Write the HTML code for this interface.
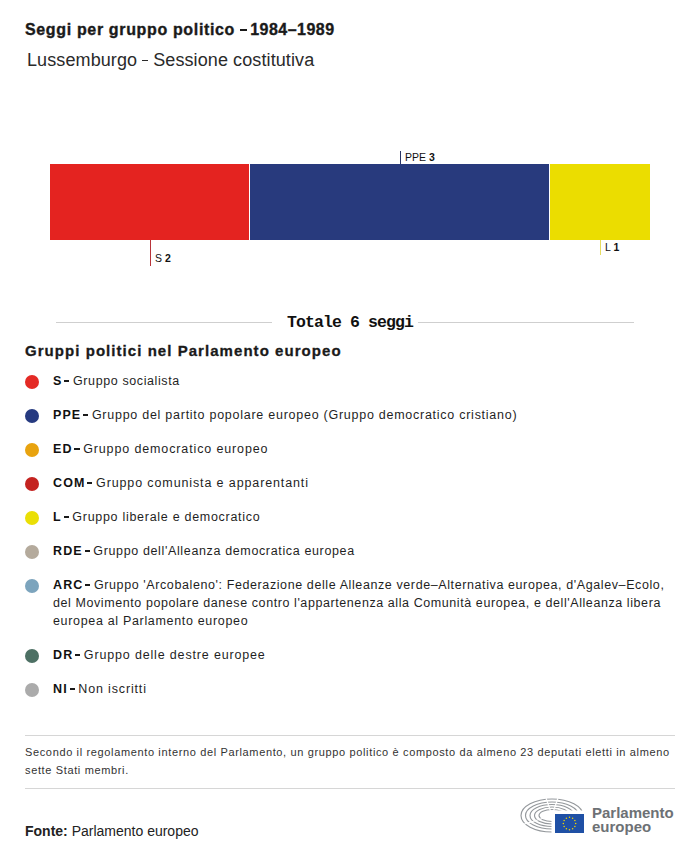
<!DOCTYPE html>
<html><head><meta charset="utf-8">
<style>
html,body{margin:0;padding:0;background:#fff;}
body{width:700px;height:856px;position:relative;overflow:hidden;font-family:"Liberation Sans",sans-serif;color:#1a1a1a;}
.a{position:absolute;white-space:nowrap;line-height:1;}
.seg{position:absolute;top:164px;height:76px;}
.tick{position:absolute;width:1px;}
.lbl{position:absolute;font-size:10.5px;line-height:1;white-space:nowrap;color:#111;}
.lbl b{font-weight:bold;}
.hr{position:absolute;height:1px;background:#cfcfcf;}
.dot{position:absolute;width:14px;height:14px;border-radius:50%;left:25px;}
.row{position:absolute;left:53px;font-size:12.5px;line-height:18px;white-space:nowrap;color:#1f1f1f;letter-spacing:0.6px;}
.row b{font-weight:bold;color:#111;letter-spacing:1.1px;}
.d{display:inline-block;width:5.2px;height:1.7px;background:#1a1a1a;margin:0 3.6px 0 1.8px;vertical-align:3.2px;}
</style></head>
<body>
<div id="title" class="a" style="left:25px;top:22px;font-size:16px;font-weight:bold;letter-spacing:0.48px;-webkit-text-stroke:0.35px #1a1a1a;"><span id="t1" style="letter-spacing:0.65px">Seggi per gruppo politico</span><i id="tdash" style="display:inline-block;width:6.4px;height:2.2px;background:#1a1a1a;margin:0 3.4px 0 5.4px;vertical-align:4px;"></i>1984–1989</div>
<div id="sub" class="a" style="left:27px;top:51px;font-size:18px;color:#2a2a2a;letter-spacing:0.1px;">Lussemburgo<i style="display:inline-block;width:6px;height:1.4px;background:#2a2a2a;margin:0 5px;vertical-align:4.6px;"></i>Sessione costitutiva</div>

<div class="seg" style="left:50px;width:199px;background:#e42320;"></div>
<div class="seg" style="left:250px;width:299px;background:#283a7d;"></div>
<div class="seg" style="left:550px;width:100px;background:#ebdd00;"></div>

<div class="tick" style="left:150px;top:240px;height:26px;background:#b8343a;"></div>
<div id="ls" class="lbl" style="left:155px;top:253px;">S <b>2</b></div>
<div class="tick" style="left:400px;top:151px;height:13px;background:#2a3566;"></div>
<div id="lp" class="lbl" style="left:405px;top:152px;">PPE <b>3</b></div>
<div class="tick" style="left:600px;top:240px;height:15px;background:#e6dc60;"></div>
<div id="ll" class="lbl" style="left:605px;top:242px;">L <b>1</b></div>

<div class="hr" style="left:56px;top:322px;width:216px;"></div>
<div class="hr" style="left:418px;top:322px;width:216px;"></div>
<div id="tot" class="a" style="left:287px;top:315px;font-family:'Liberation Mono',monospace;font-weight:bold;font-size:16.5px;letter-spacing:-0.9px;color:#111;">Totale 6 seggi</div>

<div id="gtitle" class="a" style="left:25px;top:343px;font-size:15px;font-weight:bold;letter-spacing:1.05px;-webkit-text-stroke:0.3px #1a1a1a;">Gruppi politici nel Parlamento europeo</div>

<div class="dot" style="top:375px;background:#e42a25;"></div>
<div id="r1" class="row" style="top:372px;"><b>S</b><i class="d"></i>Gruppo socialista</div>
<div class="dot" style="top:409px;background:#263a80;"></div>
<div id="r2" class="row" style="top:406px;letter-spacing:0.74px;"><b>PPE</b><i class="d"></i>Gruppo del partito popolare europeo (Gruppo democratico cristiano)</div>
<div class="dot" style="top:443px;background:#e8a30f;"></div>
<div id="r3" class="row" style="top:440px;letter-spacing:0.87px;"><b>ED</b><i class="d"></i>Gruppo democratico europeo</div>
<div class="dot" style="top:477px;background:#c42320;"></div>
<div id="r4" class="row" style="top:474px;letter-spacing:0.88px;"><b>COM</b><i class="d"></i>Gruppo comunista e apparentanti</div>
<div class="dot" style="top:511px;background:#eadf06;"></div>
<div id="r5" class="row" style="top:508px;letter-spacing:0.71px;"><b>L</b><i class="d"></i>Gruppo liberale e democratico</div>
<div class="dot" style="top:545px;background:#b4aa9c;"></div>
<div id="r6" class="row" style="top:542px;letter-spacing:0.64px;"><b>RDE</b><i class="d"></i>Gruppo dell'Alleanza democratica europea</div>
<div class="dot" style="top:579px;background:#7ca4bd;"></div>
<div id="r7" class="row" style="top:576px;"><b>ARC</b><i class="d"></i>Gruppo 'Arcobaleno': Federazione delle Alleanze verde–Alternativa europea, d'Agalev–Ecolo,<br><span style="letter-spacing:0.58px">del Movimento popolare danese contro l'appartenenza alla Comunità europea, e dell'Alleanza libera</span><br><span style="letter-spacing:0.67px">europea al Parlamento europeo</span></div>
<div class="dot" style="top:649px;background:#4d7064;"></div>
<div id="r8" class="row" style="top:646px;letter-spacing:0.84px;"><b>DR</b><i class="d"></i>Gruppo delle destre europee</div>
<div class="dot" style="top:683px;background:#ababab;"></div>
<div id="r9" class="row" style="top:680px;letter-spacing:0.85px;"><b>NI</b><i class="d"></i>Non iscritti</div>

<div class="hr" style="left:25px;top:735px;width:650px;background:#d6d6d6;"></div>
<div id="f1" class="row" style="left:25px;top:743px;font-size:11px;color:#333;letter-spacing:0.64px;">Secondo il regolamento interno del Parlamento, un gruppo politico è composto da almeno 23 deputati eletti in almeno<br>sette Stati membri.</div>
<div class="hr" style="left:25px;top:788px;width:650px;background:#d6d6d6;"></div>

<div id="fonte" class="a" style="left:25px;top:824px;font-size:14px;color:#222;"><b>Fonte:</b> Parlamento europeo</div>

<svg style="position:absolute;left:515px;top:795px;" width="75" height="42" viewBox="515 795 75 42">
  <g fill="none" stroke="#94989c" stroke-width="1.15"><ellipse cx="552" cy="815.5" rx="31" ry="16.5"/><ellipse cx="552" cy="815.5" rx="26.5" ry="13.5"/><ellipse cx="552" cy="815.5" rx="22" ry="11"/><ellipse cx="552" cy="815.5" rx="17.5" ry="8.5"/><ellipse cx="552" cy="815.5" rx="13" ry="6"/></g>
  <g stroke="#fff" stroke-width="1.2">
    <line x1="552" y1="815.5" x2="545" y2="795"/>
    <line x1="552" y1="815.5" x2="559" y2="795"/>
    <line x1="552" y1="815.5" x2="518" y2="826"/>
  </g>
  <rect x="551.5" y="810.5" width="40" height="30" fill="#fff"/>
  <rect x="555" y="814" width="29" height="19" fill="#1f50a5"/>
  <g fill="#f2d600"><circle cx="569.50" cy="817.30" r="0.75"/><circle cx="572.60" cy="818.13" r="0.75"/><circle cx="574.87" cy="820.40" r="0.75"/><circle cx="575.70" cy="823.50" r="0.75"/><circle cx="574.87" cy="826.60" r="0.75"/><circle cx="572.60" cy="828.87" r="0.75"/><circle cx="569.50" cy="829.70" r="0.75"/><circle cx="566.40" cy="828.87" r="0.75"/><circle cx="564.13" cy="826.60" r="0.75"/><circle cx="563.30" cy="823.50" r="0.75"/><circle cx="564.13" cy="820.40" r="0.75"/><circle cx="566.40" cy="818.13" r="0.75"/></g>
</svg>
<div id="logo" class="a" style="left:592px;top:806px;font-size:15px;font-weight:bold;color:#6d7175;line-height:14px;">Parlamento<br>europeo</div>
</body></html>
